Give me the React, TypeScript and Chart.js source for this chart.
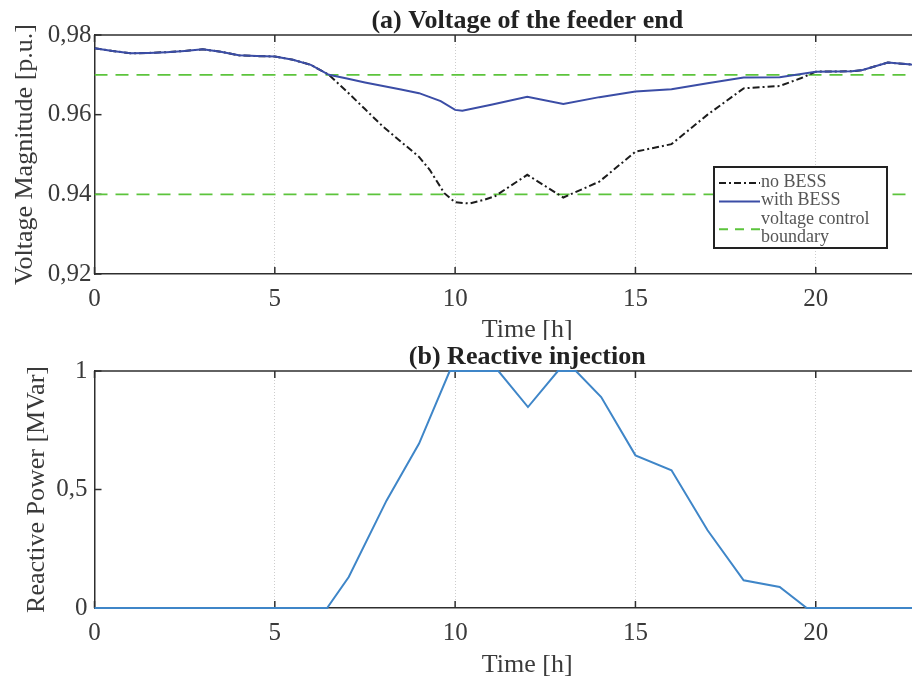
import React, { useEffect, useRef } from "react";
import { Chart, registerables } from "chart.js";

Chart.register(...registerables);

// ---------------- data ----------------
const timeTicks = [0, 5, 10, 15, 20];

const hoursWithBESS = [0, 0.5, 1, 1.5, 2, 2.5, 3, 3.5, 4, 4.5, 5, 5.5, 6, 6.5, 7, 7.5, 8, 8.5, 9, 9.6, 10, 10.2, 11, 12, 13, 14, 15, 16, 17, 18, 19, 20, 21, 21.3, 22, 22.65, 24];
const voltWithBESS = [0.9767, 0.976, 0.9754, 0.9755, 0.9757, 0.976, 0.9764, 0.9758, 0.9749, 0.9747, 0.9746, 0.9738, 0.9725, 0.97, 0.9691, 0.9681, 0.9672, 0.9663, 0.9654, 0.9634, 0.9612, 0.961, 0.9625, 0.9645, 0.9627, 0.9644, 0.9658, 0.9664, 0.9679, 0.9693, 0.9694, 0.9708, 0.9709, 0.9712, 0.9731, 0.9726, 0.9722];

const hoursNoBESS = [0, 0.5, 1, 1.5, 2, 2.5, 3, 3.5, 4, 4.5, 5, 5.5, 6, 6.5, 7, 7.5, 8, 8.5, 9, 9.3, 9.7, 10, 10.4, 10.8, 11.1, 12, 13, 14, 15, 16, 17, 18, 19, 19.6, 20, 21, 21.3, 22, 22.65, 24];
const voltNoBESS = [0.9767, 0.976, 0.9754, 0.9755, 0.9757, 0.976, 0.9764, 0.9758, 0.9749, 0.9747, 0.9746, 0.9738, 0.9725, 0.97, 0.9658, 0.9614, 0.957, 0.9532, 0.9494, 0.9461, 0.9403, 0.938, 0.9377, 0.9386, 0.9395, 0.9449, 0.9392, 0.9432, 0.9507, 0.9526, 0.96, 0.9666, 0.9672, 0.9692, 0.9708, 0.9709, 0.9712, 0.9731, 0.9726, 0.9722];

const boundaryHours = [0, 24];
const upperBoundary = [0.97, 0.97];
const lowerBoundary = [0.94, 0.94];

const hoursReactive = [0, 6.45, 7.05, 8.1, 9, 9.85, 11.2, 12.02, 12.85, 13.35, 14.05, 15, 16, 17, 18, 19, 19.75, 24];
const reactivePower = [0, 0, 0.131, 0.454, 0.694, 1, 1, 0.848, 1, 1, 0.89, 0.644, 0.581, 0.328, 0.117, 0.089, 0, 0];

const voltTickValues = [0.92, 0.94, 0.96, 0.98];
const voltTickLabels = ["0,92", "0.94", "0.96", "0,98"];
const reactiveTickValues = [0, 0.5, 1];
const reactiveTickLabels = ["0", "0,5", "1"];

// ---------------- styles ----------------
const FONT = "'Liberation Serif', 'Times New Roman', Times, serif";
const TEXT = "#3a3a3a";
const AXIS = "#2e2e2e";

const toPoints = (xs: number[], ys: number[]) => xs.map((x, i) => ({ x, y: ys[i] }));

const frameAndTicks = {
  id: "frameAndTicks",
  beforeDatasetsDraw(chart: any) {
    const { ctx, chartArea: a, scales } = chart;
    const len = 7;
    ctx.save();
    ctx.strokeStyle = AXIS;
    ctx.lineWidth = 1.5;
    ctx.setLineDash([]);
    const seg = (x1: number, y1: number, x2: number, y2: number) => {
      ctx.beginPath();
      ctx.moveTo(x1, y1);
      ctx.lineTo(x2, y2);
      ctx.stroke();
    };
    seg(a.left, a.top, a.right, a.top);
    scales.x.ticks.forEach((t: any) => {
      const px = scales.x.getPixelForValue(t.value);
      seg(px, a.bottom, px, a.bottom - len);
      seg(px, a.top, px, a.top + len);
    });
    scales.y.ticks.forEach((t: any) => {
      const py = scales.y.getPixelForValue(t.value);
      seg(a.left, py, a.left + len, py);
    });
    ctx.restore();
  },
};

const panelTitle = {
  id: "panelTitle",
  afterDraw(chart: any, _args: any, opts: any) {
    if (!opts || !opts.text) return;
    const { ctx, chartArea: a } = chart;
    ctx.save();
    ctx.font = `bold 26px ${FONT}`;
    ctx.fillStyle = "#222";
    ctx.textAlign = "center";
    ctx.textBaseline = "middle";
    ctx.fillText(opts.text, (a.left + a.right) / 2, opts.y);
    ctx.restore();
  },
};

const boxLegend = {
  id: "boxLegend",
  afterDatasetsDraw(chart: any, _args: any, opts: any) {
    if (!opts || !opts.show) return;
    const { ctx } = chart;
    const { left, top, width, height, lineHeight } = opts;
    ctx.save();
    ctx.fillStyle = "#fff";
    ctx.fillRect(left, top, width, height);
    ctx.strokeStyle = "#222";
    ctx.lineWidth = 2;
    ctx.setLineDash([]);
    ctx.strokeRect(left, top, width, height);
    let cy = top + 15;
    chart.data.datasets.forEach((ds: any) => {
      if (!ds.label || ds.legendSkip) return;
      const lines = String(ds.label).split("\n");
      const symY = cy + ((lines.length - 1) * lineHeight) / 2;
      ctx.strokeStyle = ds.borderColor;
      ctx.lineWidth = ds.borderWidth;
      ctx.setLineDash(ds.legendDash || ds.borderDash || []);
      ctx.beginPath();
      ctx.moveTo(left + 5, symY + 1);
      ctx.lineTo(left + 46, symY + 1);
      ctx.stroke();
      ctx.setLineDash([]);
      ctx.fillStyle = "#555";
      ctx.font = `18px ${FONT}`;
      ctx.textAlign = "left";
      ctx.textBaseline = "middle";
      lines.forEach((ln, i) => ctx.fillText(ln, left + 47, cy + i * lineHeight));
      cy += lines.length * lineHeight;
    });
    ctx.restore();
  },
};

function makeOptions(p: {
  yMin: number; yMax: number; yTicks: number[]; yLabels: string[]; yTitle: string;
  yTitlePad: number; yTickPad: number; padTop: number; xAxisHeight: number; xTitlePad: number;
  title: string; titleY: number; legend: any;
}) {
  return {
    responsive: false,
    animation: false as const,
    layout: { padding: { top: p.padTop, left: 0, right: 0, bottom: 0 } },
    plugins: {
      legend: { display: false },
      tooltip: { enabled: false },
      title: { display: false },
      panelTitle: { text: p.title, y: p.titleY },
      boxLegend: p.legend,
    },
    scales: {
      x: {
        type: "linear" as const,
        min: 0,
        max: 24,
        afterBuildTicks: (s: any) => { s.ticks = timeTicks.map((v) => ({ value: v })); },
        afterFit: (s: any) => { s.height = p.xAxisHeight; },
        grid: { display: true, color: "#cdcdcd", lineWidth: 1, drawTicks: false },
        border: { display: true, color: AXIS, width: 1.5, dash: [1, 2] },
        ticks: { color: TEXT, font: { family: FONT, size: 25 }, padding: 10, maxRotation: 0, autoSkip: false },
        title: { display: true, text: "Time [h]", color: TEXT, font: { family: FONT, size: 26, lineHeight: 1 }, padding: { top: 0, bottom: p.xTitlePad } },
      },
      y: {
        type: "linear" as const,
        min: p.yMin,
        max: p.yMax,
        afterBuildTicks: (s: any) => { s.ticks = p.yTicks.map((v) => ({ value: v })); },
        afterFit: (s: any) => { s.width = 94.5; },
        grid: { display: false, drawTicks: false },
        border: { display: true, color: AXIS, width: 1.5 },
        ticks: {
          color: TEXT,
          font: { family: FONT, size: 25 },
          padding: p.yTickPad,
          autoSkip: false,
          callback: (_v: any, i: number) => p.yLabels[i],
        },
        title: { display: true, text: p.yTitle, color: TEXT, font: { family: FONT, size: 26, lineHeight: 1 }, padding: { top: p.yTitlePad, bottom: 0 } },
      },
    },
  };
}

export default function App() {
  const topRef = useRef<HTMLCanvasElement | null>(null);
  const botRef = useRef<HTMLCanvasElement | null>(null);

  useEffect(() => {
    const top = new Chart(topRef.current as HTMLCanvasElement, {
      type: "line",
      data: {
        datasets: [
          {
            label: "no BESS",
            data: toPoints(hoursNoBESS, voltNoBESS),
            borderColor: "#1c1c1c",
            borderWidth: 2,
            borderDash: [7, 3, 2, 3],
            pointRadius: 0,
            tension: 0,
            order: 2,
          } as any,
          {
            label: "with BESS",
            data: toPoints(hoursWithBESS, voltWithBESS),
            borderColor: "#3b4da6",
            borderWidth: 2,
            pointRadius: 0,
            tension: 0,
            order: 1,
          },
          {
            label: "voltage control\nboundary",
            data: toPoints(boundaryHours, upperBoundary),
            borderColor: "#5cc43c",
            borderWidth: 1.8,
            borderDash: [13, 8],
            legendDash: [9, 7],
            pointRadius: 0,
            order: 3,
          },
          {
            label: "voltage control\nboundary",
            legendSkip: true,
            data: toPoints(boundaryHours, lowerBoundary),
            borderColor: "#5cc43c",
            borderWidth: 1.8,
            borderDash: [13, 8],
            pointRadius: 0,
            order: 3,
          },
        ],
      },
      options: makeOptions({
        yMin: 0.92, yMax: 0.98, yTicks: voltTickValues, yLabels: voltTickLabels,
        yTitle: "Voltage Magnitude [p.u.]", yTitlePad: 12, yTickPad: 3,
        padTop: 35, xAxisHeight: 66, xTitlePad: -3,
        title: "(a) Voltage of the feeder end", titleY: 21,
        legend: { show: true, left: 714, top: 167, width: 173, height: 81, lineHeight: 18.5 },
      }) as any,
      plugins: [frameAndTicks, panelTitle, boxLegend],
    });

    const bot = new Chart(botRef.current as HTMLCanvasElement, {
      type: "line",
      data: {
        datasets: [
          {
            label: "Reactive injection",
            data: toPoints(hoursReactive, reactivePower),
            borderColor: "#3f86c8",
            borderWidth: 2,
            pointRadius: 0,
            tension: 0,
            clip: 4,
          } as any,
        ],
      },
      options: makeOptions({
        yMin: 0, yMax: 1, yTicks: reactiveTickValues, yLabels: reactiveTickLabels,
        yTitle: "Reactive Power [MVar]", yTitlePad: 24, yTickPad: 7,
        padTop: 31, xAxisHeight: 71, xTitlePad: 1,
        title: "(b) Reactive injection", titleY: 17,
        legend: { show: false },
      }) as any,
      plugins: [frameAndTicks, panelTitle],
    });

    return () => {
      top.destroy();
      bot.destroy();
    };
  }, []);

  return (
    <div style={{ position: "absolute", left: 0, top: 0, width: 912, height: 679, overflow: "hidden", background: "#fff" }}>
      <canvas ref={topRef} width={960} height={340} style={{ position: "absolute", left: 0, top: 0, width: 960, height: 340 }} />
      <canvas ref={botRef} width={960} height={339} style={{ position: "absolute", left: 0, top: 340, width: 960, height: 339 }} />
    </div>
  );
}
